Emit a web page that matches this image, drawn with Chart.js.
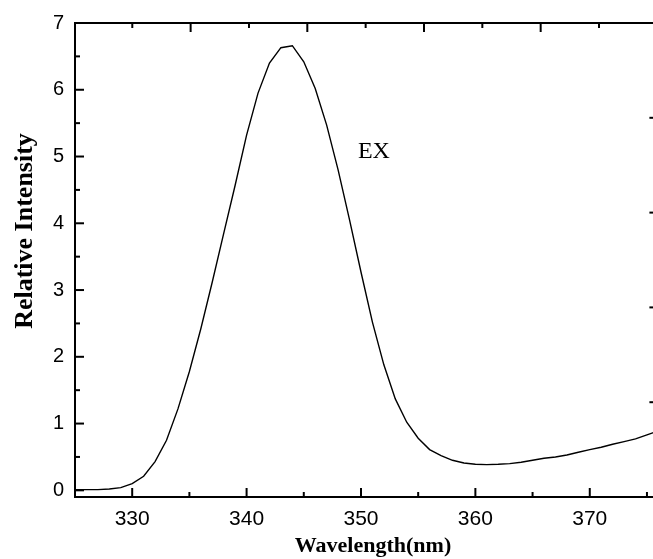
<!DOCTYPE html>
<html><head><meta charset="utf-8">
<script src="https://cdn.jsdelivr.net/npm/chart.js@4.4.1/dist/chart.umd.min.js"></script>
<style>
html,body{margin:0;padding:0;background:#fff;overflow:hidden;}
#wrap{width:653px;height:559px;overflow:hidden;position:relative;background:#fff;}
canvas{display:block;}
</style></head><body>
<div id="wrap"><canvas id="c" width="662" height="559"></canvas></div>
<script>
// ---- data ----
const wavelengths = [325,326,327,328,329,330,331,332,333,334,335,336,337,338,339,340,341,342,343,344,345,346,347,348,349,350,351,352,353,354,355,356,357,358,359,360,361,362,363,364,365,366,367,368,369,370,371,372,373,374,375,376];
const intensity   = [0.01,0.01,0.01,0.02,0.04,0.10,0.21,0.43,0.75,1.22,1.78,2.42,3.12,3.85,4.57,5.32,5.95,6.40,6.63,6.66,6.42,6.02,5.47,4.80,4.05,3.27,2.52,1.88,1.37,1.02,0.78,0.61,0.52,0.45,0.41,0.39,0.385,0.39,0.40,0.42,0.45,0.48,0.50,0.53,0.57,0.61,0.645,0.69,0.73,0.77,0.83,0.89];
const xTickLabels = ['330','340','350','360','370'];
const yTickLabels = ['0','1','2','3','4','5','6','7'];
const seriesLabel = 'EX';
const xTitle = 'Wavelength(nm)';
const yTitle = 'Relative Intensity';

const points = wavelengths.map((w,i)=>({x:w,y:intensity[i]}));

// tick mark specs (inward ticks, major + minor)
function range(a,b,s){const r=[];for(let v=a;v<=b+1e-9;v+=s)r.push(+v.toFixed(4));return r;}
const tickSpecs = [
  {id:'x',  side:'bottom', major:xTickLabels.map(Number), minor:range(335,375,10)},
  {id:'y',  side:'left',   major:yTickLabels.map(Number), minor:range(0.5,6.5,1)},
  {id:'x2', side:'top',    major:range(10,40,10), minor:range(5,45,10)},
  {id:'y2', side:'right',  major:range(1,4,1), minor:range(0.5,4.5,1)}
];

const framePlugin = {
  id:'frame',
  afterDraw(chart){
    const ctx = chart.ctx, a = chart.chartArea;
    ctx.save();
    ctx.strokeStyle = '#000';
    ctx.lineWidth = 2;
    ctx.strokeRect(a.left, a.top, a.right-a.left, a.bottom-a.top);
    tickSpecs.forEach(spec=>{
      const sc = chart.scales[spec.id];
      const draw = (v,len)=>{
        const p = sc.getPixelForValue(v);
        ctx.beginPath();
        if(spec.side==='bottom'){ctx.moveTo(p,a.bottom);ctx.lineTo(p,a.bottom-len);}
        else if(spec.side==='top'){ctx.moveTo(p,a.top);ctx.lineTo(p,a.top+len);}
        else if(spec.side==='left'){ctx.moveTo(a.left,p);ctx.lineTo(a.left+len,p);}
        else {ctx.moveTo(a.right,p);ctx.lineTo(a.right-len,p);}
        ctx.stroke();
      };
      spec.major.forEach(v=>draw(v,9));
      spec.minor.forEach(v=>draw(v,5));
    });
    // texts
    ctx.fillStyle = '#000';
    ctx.font = 'bold 22px "Liberation Serif", "Times New Roman", serif';
    ctx.textAlign = 'center';
    ctx.textBaseline = 'alphabetic';
    ctx.fillText(xTitle, 373, 552);
    ctx.save();
    ctx.translate(32, 231);
    ctx.rotate(-Math.PI/2);
    ctx.font = 'bold 26px "Liberation Serif", "Times New Roman", serif';
    ctx.fillText(yTitle, 0, 0);
    ctx.restore();
    ctx.font = '24px "Liberation Serif", "Times New Roman", serif';
    ctx.textAlign = 'left';
    ctx.fillText(seriesLabel, chart.scales.x.getPixelForValue(349.73), chart.scales.y.getPixelForValue(4.98));
    ctx.restore();
  }
};

new Chart(document.getElementById('c'), {
  type:'line',
  data:{datasets:[{label:seriesLabel, data:points, borderColor:'#000', borderWidth:1.4, pointRadius:0, tension:0, fill:false}]},
  options:{
    responsive:false, animation:false,
    layout:{padding:{top:23,right:3.6,left:0,bottom:0}},
    plugins:{legend:{display:false}, tooltip:{enabled:false}},
    scales:{
      x:{type:'linear', position:'bottom', min:325, max:376,
        afterBuildTicks:s=>{s.ticks = xTickLabels.map(v=>({value:Number(v)}));},
        afterFit:s=>{s.height = 62;},
        grid:{display:false, drawTicks:false}, border:{display:false},
        ticks:{padding:10, color:'#000', font:{family:'"Liberation Sans", Arial, sans-serif', size:21}, maxRotation:0, callback:v=>String(v)}
      },
      x2:{type:'linear', position:'top', min:0.09, max:50.09,
        afterFit:s=>{s.height = 0;},
        grid:{display:false, drawTicks:false}, border:{display:false}, ticks:{display:false}
      },
      y:{type:'linear', position:'left', min:-0.1, max:7,
        afterBuildTicks:s=>{s.ticks = yTickLabels.map(v=>({value:Number(v)}));},
        afterFit:s=>{s.width = 75;},
        grid:{display:false, drawTicks:false}, border:{display:false},
        ticks:{padding:11, color:'#000', font:{family:'"Liberation Sans", Arial, sans-serif', size:20}, callback:v=>String(v)}
      },
      y2:{type:'linear', position:'right', min:0, max:5,
        afterFit:s=>{s.width = 0;},
        grid:{display:false, drawTicks:false}, border:{display:false}, ticks:{display:false}
      }
    }
  },
  plugins:[framePlugin]
});
</script>
</body></html>
